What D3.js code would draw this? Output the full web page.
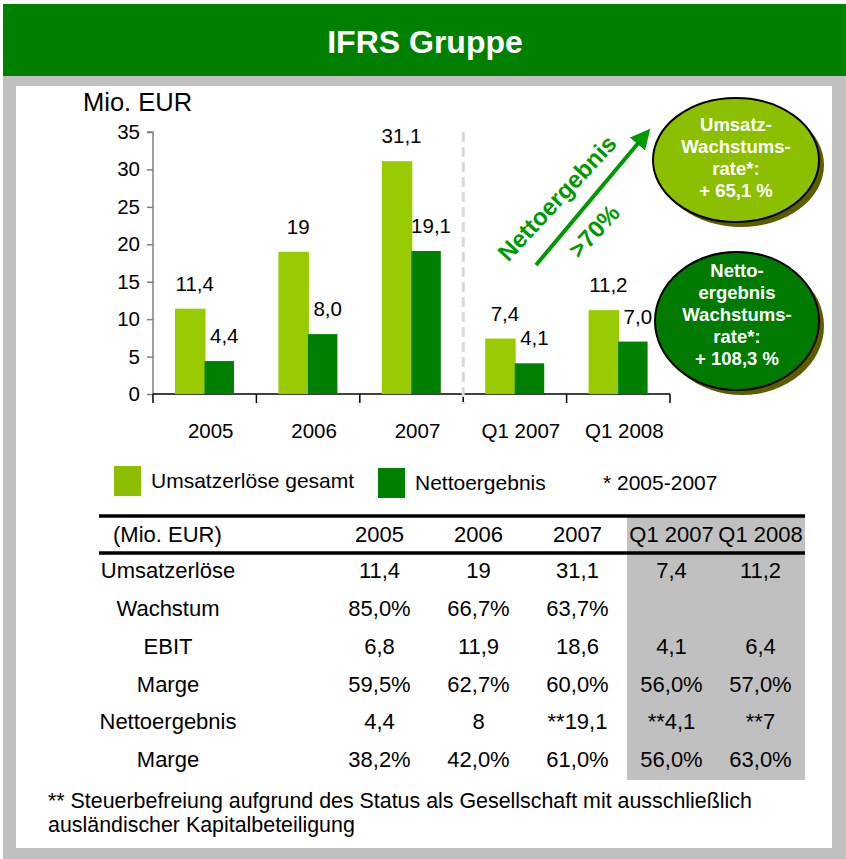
<!DOCTYPE html>
<html>
<head>
<meta charset="utf-8">
<script src="https://cdn.jsdelivr.net/npm/d3@7"></script>
<style>
body { margin: 0; background: #fff; }
svg text { font-family: "Liberation Sans", Arial, sans-serif; }
</style>
</head>
<body>
<svg id="chart" width="846" height="859"></svg>
<script>
// chart data
var categories = ["2005", "2006", "2007", "Q1 2007", "Q1 2008"];
var series = ["Umsatzerlöse gesamt", "Nettoergebnis"];
var umsatz = [11.4, 19, 31.1, 7.4, 11.2];
var netto = [4.4, 8.0, 19.1, 4.1, 7.0];
var umsatzLabels = ["11,4", "19", "31,1", "7,4", "11,2"];
var nettoLabels = ["4,4", "8,0", "19,1", "4,1", "7,0"];
var yTicks = [0, 5, 10, 15, 20, 25, 30, 35];

// bubbles
var umsatzBubble = ["Umsatz-", "Wachstums-", "rate*:", "+ 65,1 %"];
var nettoBubble = ["Netto-", "ergebnis", "Wachstums-", "rate*:", "+ 108,3 %"];

// table
var yearCols = ["2005", "2006", "2007"];
var quarterCols = ["Q1 2007", "Q1 2008"];
var rowNames = ["Umsatzerlöse", "Wachstum", "EBIT", "Marge", "Nettoergebnis", "Marge"];
var tableValues = [
	["11,4", "19", "31,1", "7,4", "11,2"],
	["85,0%", "66,7%", "63,7%", "", ""],
	["6,8", "11,9", "18,6", "4,1", "6,4"],
	["59,5%", "62,7%", "60,0%", "56,0%", "57,0%"],
	["4,4", "8", "**19,1", "**4,1", "**7"],
	["38,2%", "42,0%", "61,0%", "56,0%", "63,0%"]
];
var footnote = ["** Steuerbefreiung aufgrund des Status als Gesellschaft mit ausschließlich",
	"ausländischer Kapitalbeteiligung"];

var colors = { light: "#99cc00", dark: "#008000", legendLight: "#8dbf00", arrow: "#009900" };

var svg = d3.select("#chart");

// frame + header
svg.append("rect").attr("x", 3).attr("y", 76).attr("width", 843).attr("height", 783).attr("fill", "#c0c0c0");
svg.append("rect").attr("x", 16).attr("y", 86).attr("width", 816).attr("height", 762).attr("fill", "#fff");
svg.append("rect").attr("x", 3).attr("y", 4).attr("width", 843).attr("height", 72).attr("fill", "#008000");
svg.append("text").attr("x", 425).attr("y", 53).attr("text-anchor", "middle")
	.attr("font-size", "32px").attr("font-weight", "bold").attr("fill", "#fff").text("IFRS Gruppe");

// scales
var x = d3.scaleBand().domain(categories).range([153, 670]);
var xInner = d3.scaleBand().domain(series).range([22, 81]);
var y = d3.scaleLinear().domain([0, 35]).range([394, 132]);

svg.append("text").attr("x", 83).attr("y", 111).attr("font-size", "25.5px").text("Mio. EUR");

// y axis
var yAxis = svg.append("g").attr("transform", "translate(153,0)")
	.call(d3.axisLeft(y).tickValues(yTicks).tickSize(6).tickPadding(7));
yAxis.selectAll("path, line").attr("stroke", "#808080").attr("stroke-width", 1.5);
yAxis.select(".domain").attr("d", "M-6," + y(35) + "H0V" + y(0));
yAxis.selectAll("text").attr("font-size", "20.5px").attr("fill", "#000")
	.attr("font-family", "'Liberation Sans', Arial, sans-serif");

// x axis
svg.append("line").attr("x1", 153).attr("x2", 670).attr("y1", y(0)).attr("y2", y(0))
	.attr("stroke", "#000").attr("stroke-width", 1.5);
var bounds = categories.map(function(c) { return x(c); }).concat([x.range()[1]]);
svg.selectAll(".xtick").data(bounds).enter().append("line")
	.attr("x1", function(d) { return d; }).attr("x2", function(d) { return d; })
	.attr("y1", y(0)).attr("y2", y(0) + 9)
	.attr("stroke", "#000").attr("stroke-width", 1.5);
svg.selectAll(".xlabel").data(categories).enter().append("text")
	.attr("x", function(d) { return x(d) + x.bandwidth() / 2 + 6; })
	.attr("y", 438).attr("text-anchor", "middle").attr("font-size", "20.5px")
	.text(function(d) { return d; });

// dashed separator between years and quarters
svg.append("line").attr("x1", x("Q1 2007")).attr("x2", x("Q1 2007"))
	.attr("y1", y(35)).attr("y2", y(0) + 10)
	.attr("stroke", "#d9d9d9").attr("stroke-width", 3).attr("stroke-dasharray", "10,5");

// bars
var groups = svg.selectAll(".grp").data(categories).enter().append("g")
	.attr("transform", function(d) { return "translate(" + x(d) + ",0)"; });

groups.append("rect")
	.attr("x", xInner(series[0])).attr("width", xInner.bandwidth() + 1)
	.attr("y", function(d, i) { return y(umsatz[i]); })
	.attr("height", function(d, i) { return y(0) - y(umsatz[i]); })
	.attr("fill", colors.light);
groups.append("rect")
	.attr("x", xInner(series[1])).attr("width", xInner.bandwidth())
	.attr("y", function(d, i) { return y(netto[i]); })
	.attr("height", function(d, i) { return y(0) - y(netto[i]); })
	.attr("fill", colors.dark);

groups.append("text")
	.attr("x", xInner(series[0]) + xInner.bandwidth() / 2 + 5)
	.attr("y", function(d, i) { return y(umsatz[i]) - 18; })
	.attr("text-anchor", "middle").attr("font-size", "20.5px")
	.text(function(d, i) { return umsatzLabels[i]; });
groups.append("text")
	.attr("x", xInner(series[1]) + xInner.bandwidth() / 2 + 5)
	.attr("y", function(d, i) { return y(netto[i]) - 18; })
	.attr("text-anchor", "middle").attr("font-size", "20.5px")
	.text(function(d, i) { return nettoLabels[i]; });

// growth arrow
var defs = svg.append("defs");
defs.append("marker").attr("id", "head").attr("viewBox", "0 0 10 10")
	.attr("refX", 2).attr("refY", 5).attr("markerWidth", 5).attr("markerHeight", 5)
	.attr("orient", "auto")
	.append("path").attr("d", "M0,0L10,5L0,10Z").attr("fill", colors.arrow);
svg.append("line").attr("x1", 536).attr("y1", 265).attr("x2", 640).attr("y2", 141)
	.attr("stroke", colors.arrow).attr("stroke-width", 4).attr("marker-end", "url(#head)");
svg.append("text").attr("transform", "translate(557,198) rotate(-47)")
	.attr("text-anchor", "middle").attr("dy", "0.35em")
	.attr("font-size", "24px").attr("font-weight", "bold").attr("fill", colors.arrow)
	.text("Nettoergebnis");
svg.append("text").attr("transform", "translate(594,231) rotate(-47)")
	.attr("text-anchor", "middle").attr("dy", "0.35em")
	.attr("font-size", "24px").attr("font-weight", "bold").attr("fill", colors.arrow)
	.text(">70%");

// bubbles
function bubble(cx, cy, rx, ry, fill, lines, firstY) {
	svg.append("ellipse").attr("cx", cx + 5).attr("cy", cy + 5).attr("rx", rx).attr("ry", ry)
		.attr("fill", "#5c5c00");
	svg.append("ellipse").attr("cx", cx).attr("cy", cy).attr("rx", rx).attr("ry", ry)
		.attr("fill", fill).attr("stroke", "#000").attr("stroke-width", 2);
	svg.append("g").selectAll("text").data(lines).enter().append("text")
		.attr("x", cx).attr("y", function(d, i) { return firstY + i * 22; })
		.attr("text-anchor", "middle").attr("font-size", "18.5px").attr("font-weight", "bold")
		.attr("fill", "#fff").text(function(d) { return d; });
}
bubble(736, 160, 83, 62, "#8cbf00", umsatzBubble, 131);
bubble(737, 321, 82, 69, "#007a00", nettoBubble, 277);

// legend
var legend = [
	{ name: series[0], color: colors.legendLight, x: 114, w: 27 },
	{ name: series[1], color: colors.dark, x: 378, w: 27 }
];
svg.selectAll(".leg").data(legend).enter().append("rect")
	.attr("x", function(d) { return d.x; }).attr("y", function(d, i) { return 466 + i * 2; })
	.attr("width", function(d) { return d.w; }).attr("height", 30)
	.attr("fill", function(d) { return d.color; });
svg.selectAll(".legt").data(legend).enter().append("text")
	.attr("x", function(d) { return d.x + d.w + 10; }).attr("y", function(d, i) { return 488 + i * 2; })
	.attr("font-size", "21px").text(function(d) { return d.name; });
svg.append("text").attr("x", 603).attr("y", 490).attr("font-size", "21px").text("* 2005-2007");

// table
var tYears = d3.scaleBand().domain(yearCols).range([330, 627]);
var tQuarters = d3.scaleBand().domain(quarterCols).range([627, 805]);
var allCols = yearCols.concat(quarterCols);
function colX(c) {
	return yearCols.indexOf(c) >= 0 ? tYears(c) + tYears.bandwidth() / 2 : tQuarters(c) + tQuarters.bandwidth() / 2;
}
var tRows = d3.scaleBand().domain(d3.range(rowNames.length)).range([553, 780]);

svg.append("rect").attr("x", tQuarters.range()[0]).attr("y", 516)
	.attr("width", tQuarters.range()[1] - tQuarters.range()[0]).attr("height", 780 - 516)
	.attr("fill", "#c0c0c0");
svg.append("line").attr("x1", 99).attr("x2", 805).attr("y1", 516).attr("y2", 516)
	.attr("stroke", "#000").attr("stroke-width", 3.5);
svg.append("line").attr("x1", 99).attr("x2", 805).attr("y1", 553).attr("y2", 553)
	.attr("stroke", "#000").attr("stroke-width", 3.5);

svg.append("text").attr("x", 113).attr("y", 542).attr("font-size", "22px").text("(Mio. EUR)");
svg.selectAll(".th").data(allCols).enter().append("text")
	.attr("x", function(d) { return colX(d); }).attr("y", 542)
	.attr("text-anchor", "middle").attr("font-size", "22px").text(function(d) { return d; });

var rows = svg.selectAll(".tr").data(rowNames).enter().append("g")
	.attr("transform", function(d, i) { return "translate(0," + (tRows(i) + 25) + ")"; });
rows.append("text").attr("x", 168).attr("text-anchor", "middle").attr("font-size", "22px")
	.text(function(d) { return d; });
rows.selectAll(".cell").data(function(d, i) { return tableValues[i]; }).enter().append("text")
	.attr("x", function(d, j) { return colX(allCols[j]); })
	.attr("text-anchor", "middle").attr("font-size", "22px")
	.text(function(d) { return d; });

svg.selectAll(".fn").data(footnote).enter().append("text")
	.attr("x", 48).attr("y", function(d, i) { return 808 + i * 24; })
	.attr("font-size", "21.4px").text(function(d) { return d; });
</script>
</body>
</html>
